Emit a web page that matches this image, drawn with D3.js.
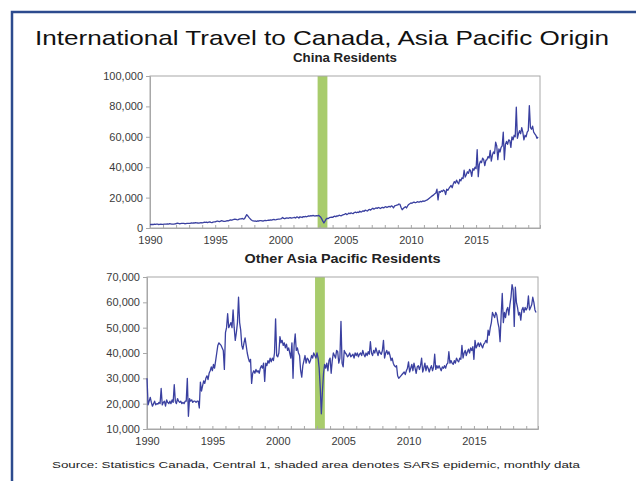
<!DOCTYPE html>
<html>
<head>
<meta charset="utf-8">
<script src="https://cdn.jsdelivr.net/npm/d3@7"></script>
<style>
  html, body { margin: 0; padding: 0; background: #fff; }
  svg { display: block; }
  text { font-family: "Liberation Sans", Arial, sans-serif; }
</style>
</head>
<body>
<svg id="chart" width="636" height="481"></svg>
<script>
// Monthly arrivals, thousands of persons, Jan 1990 onward
const startYear = 1990;

const chinaResidents = [
  2.2,2.3,2.4,2.3,2.5,2.4,2.6,2.5,2.3,2.4,2.5,2.4,
  2.4,2.5,2.6,2.5,2.7,2.6,2.8,2.7,2.6,2.5,2.6,2.7,
  2.8,3.2,3.0,2.8,2.9,3.0,3.1,3.0,2.8,2.9,3.0,3.1,
  3.0,3.1,3.3,3.2,3.4,3.3,3.5,3.4,3.3,3.2,3.4,3.5,
  3.4,3.6,3.8,3.7,3.9,3.6,3.8,4.0,3.7,3.6,3.9,4.0,
  4.0,4.3,4.6,4.4,4.2,4.5,4.8,4.6,4.4,4.3,4.6,4.8,
  4.7,5.0,5.3,5.1,5.4,5.6,5.9,5.7,5.5,5.4,5.8,6.0,
  6.0,6.3,5.8,6.2,7.5,8.8,8.0,7.0,6.2,5.4,4.9,4.7,
  4.5,4.6,4.4,4.7,4.6,4.8,4.9,4.7,4.6,4.8,5.0,4.9,
  5.0,5.2,5.1,5.3,5.2,5.5,5.6,5.4,5.5,5.7,5.8,5.9,
  6.0,6.2,6.9,6.3,6.1,6.5,6.7,6.4,6.6,6.8,6.5,6.7,
  6.8,7.0,6.6,7.3,7.1,6.5,7.4,7.2,6.9,7.5,7.3,7.6,
  7.4,7.7,8.0,7.8,8.1,7.9,8.3,8.0,7.9,8.2,8.0,8.3,
  7.8,7.2,6.0,4.5,3.3,4.5,5.8,6.4,6.2,6.8,7.0,7.2,
  7.0,7.5,7.8,7.4,8.0,7.9,8.4,8.2,8.0,8.5,8.8,9.0,
  9.5,8.8,9.2,9.8,9.4,10.0,9.7,9.5,10.2,10.5,10.0,10.4,
  10.2,11.0,10.5,10.8,11.3,11.0,11.8,11.4,11.2,11.9,12.2,11.8,
  12.5,13.0,12.4,12.8,13.2,12.9,13.5,13.2,12.8,13.4,13.6,13.2,
  13.8,14.0,13.5,13.9,14.2,13.8,14.5,14.2,13.2,14.5,14.8,15.0,
  15.2,15.8,15.5,13.5,12.0,12.8,13.5,14.0,13.2,14.5,15.5,16.0,
  16.5,16.2,16.8,17.0,16.6,16.9,17.3,17.0,17.1,17.5,17.2,17.8,
  17.5,17.8,18.2,18.5,19.0,19.6,20.2,20.8,21.3,21.8,22.5,23.0,
  25.5,18.5,24.0,23.5,24.5,24.0,25.0,24.5,22.0,25.5,24.8,26.0,
  27.0,28.0,26.5,29.0,30.5,29.5,31.5,30.0,29.0,32.0,31.0,33.0,
  32.5,38.0,33.5,35.0,37.0,36.0,38.5,37.5,34.0,39.0,38.0,40.0,
  39.0,51.5,33.8,42.0,44.0,43.0,46.0,45.0,41.0,44.5,45.0,47.0,
  46.0,51.0,44.0,48.0,50.0,49.0,56.5,54.0,45.0,52.0,50.0,53.0,
  54.0,63.0,45.0,55.0,57.0,55.0,58.0,57.5,53.0,60.0,58.0,61.0,
  60.0,79.5,59.0,62.0,64.0,62.0,66.0,63.0,58.0,61.0,60.0,63.0,
  64.0,80.5,66.0,65.0,67.0,63.0,62.0,61.0,59.0,60.0
];

const otherAsiaPacific = [
  30.0,19.5,21.0,22.5,20.5,19.0,20.0,21.0,19.5,20.0,19.8,20.5,
  20.0,26.0,19.5,20.5,21.0,19.0,21.5,20.5,20.0,21.0,20.0,21.5,
  20.5,27.5,21.0,20.0,22.0,21.0,20.5,21.0,20.0,20.5,20.0,21.0,
  21.0,30.0,15.0,22.0,21.0,21.5,20.5,21.0,21.0,20.5,21.0,21.0,
  18.3,28.5,25.0,27.0,29.0,28.0,30.0,31.0,29.5,32.0,33.0,34.5,
  33.0,35.5,34.0,37.0,40.0,43.0,44.0,43.5,43.0,42.0,41.0,33.5,
  48.0,50.0,55.5,50.0,51.0,52.0,50.0,57.0,50.0,45.0,48.0,52.0,
  62.0,52.0,49.0,43.0,41.5,44.0,46.0,43.0,40.0,38.0,36.5,37.5,
  28.0,32.0,33.0,32.0,33.5,32.5,33.0,32.0,34.0,35.0,34.0,36.0,
  28.8,36.0,35.0,37.0,36.0,38.0,36.5,38.0,37.0,40.0,53.5,39.0,
  38.5,40.0,46.5,44.0,45.0,43.0,44.0,42.0,43.5,41.0,42.0,40.0,
  38.0,44.0,30.0,43.0,47.5,41.0,42.0,40.0,39.0,33.0,30.5,35.0,
  37.0,39.0,36.0,38.0,37.5,36.0,37.0,39.0,38.0,40.0,39.0,38.0,
  40.0,38.0,34.0,26.0,16.0,25.0,32.0,35.5,34.0,36.0,33.0,37.0,
  38.0,32.0,37.0,40.0,39.0,38.0,41.0,40.5,36.0,38.0,52.5,36.0,
  34.5,41.0,40.0,39.5,38.5,39.0,40.0,38.5,39.0,39.5,38.0,40.0,
  39.0,40.0,38.5,39.5,40.0,39.0,41.0,39.5,38.5,40.0,39.0,40.5,
  39.5,44.5,40.0,39.0,41.0,40.0,42.0,40.5,39.0,41.0,40.0,39.5,
  41.0,45.0,38.0,40.0,41.0,39.5,40.5,39.0,37.0,38.0,36.0,35.0,
  34.5,35.0,31.0,30.0,30.5,31.0,31.5,32.0,32.5,31.5,33.0,34.0,
  36.5,32.5,34.0,35.5,33.0,36.0,34.0,32.0,34.5,35.0,33.5,35.0,
  38.0,32.5,34.0,36.0,33.0,35.0,34.0,32.5,34.0,35.0,33.0,34.5,
  39.5,33.5,35.0,34.0,35.0,34.0,33.0,34.5,34.0,35.0,34.0,35.5,
  36.0,40.5,36.0,37.0,36.0,35.5,37.0,36.0,38.0,37.0,36.5,38.0,
  37.5,43.0,38.0,40.0,41.0,39.0,40.5,41.5,40.0,42.0,41.0,42.5,
  37.5,45.0,42.0,43.0,44.0,42.5,44.0,43.0,42.0,43.5,44.0,45.0,
  44.0,49.0,47.0,50.0,52.0,56.0,55.0,54.0,56.0,55.0,52.0,50.0,
  44.5,55.0,63.5,52.0,56.0,54.0,57.0,58.0,55.0,59.0,62.0,67.0,
  65.0,50.5,66.0,60.0,58.0,55.0,56.0,53.0,57.0,58.0,56.0,58.0,
  57.0,58.0,62.5,57.0,58.0,59.0,62.0,60.0,57.0,56.0
];

// SARS epidemic window (decimal years)
const sarsPeriod = [2002.85, 2003.6];

const yearLabels = [1990, 1995, 2000, 2005, 2010, 2015];
const chinaTicks = [0, 20000, 40000, 60000, 80000, 100000];
const otherTicks = [10000, 20000, 30000, 40000, 50000, 60000, 70000];

const titleText = "International Travel to Canada, Asia Pacific Origin";
const sourceText = "Source: Statistics Canada, Central 1, shaded area denotes SARS epidemic, monthly data";

const svg = d3.select("#chart");
const lineColor = "#3a40a0";
const shadeColor = "#a8cc6c";
const axisColor = "#a8a8a8";
const labelColor = "#3a3a3a";

// page frame (left and top rules)
svg.append("path")
  .attr("d", "M12,481 L12,12 L636,12")
  .attr("fill", "none")
  .attr("stroke", "#2c4b8e")
  .attr("stroke-width", 2.5);

function fitText(sel, width) {
  sel.attr("textLength", width).attr("lengthAdjust", "spacingAndGlyphs");
}

svg.append("text")
  .attr("x", 322).attr("y", 45)
  .attr("text-anchor", "middle")
  .attr("font-size", 21)
  .attr("fill", "#111")
  .text(titleText)
  .call(fitText, 574);

svg.append("text")
  .attr("x", 316).attr("y", 468)
  .attr("text-anchor", "middle")
  .attr("font-size", 9.5)
  .attr("fill", "#222")
  .text(sourceText)
  .call(fitText, 528);

function panel(cfg) {
  const series = cfg.values.map((v, i) => ({ t: startYear + i / 12, v: v * 1000 }));
  const x = d3.scaleLinear().domain([1990, 2019.9]).range([cfg.left, cfg.right]);
  const y = d3.scaleLinear().domain(cfg.yDomain).range([cfg.bottom, cfg.top]);
  const g = svg.append("g");

  // subtitle
  g.append("text")
    .attr("x", (cfg.left + cfg.right) / 2).attr("y", cfg.top - 14)
    .attr("text-anchor", "middle")
    .attr("font-size", 12).attr("font-weight", "bold")
    .attr("fill", "#222")
    .text(cfg.title)
    .call(fitText, cfg.titleWidth);

  // shaded SARS period
  g.append("rect")
    .attr("x", x(sarsPeriod[0]))
    .attr("y", cfg.top)
    .attr("width", x(sarsPeriod[1]) - x(sarsPeriod[0]))
    .attr("height", cfg.bottom - cfg.top)
    .attr("fill", shadeColor);

  // plot frame
  g.append("rect")
    .attr("x", cfg.left).attr("y", cfg.top)
    .attr("width", cfg.right - cfg.left)
    .attr("height", cfg.bottom - cfg.top)
    .attr("fill", "none")
    .attr("stroke", axisColor).attr("stroke-width", 1);

  const years = d3.range(1990, 2020);
  const xAxis = d3.axisBottom(x)
    .tickValues(years)
    .tickSize(-3)
    .tickPadding(8)
    .tickFormat(d => yearLabels.includes(d) ? String(d) : "");
  const xg = g.append("g").attr("transform", `translate(0,${cfg.bottom})`).call(xAxis);

  const yAxis = d3.axisLeft(y)
    .tickValues(cfg.ticks)
    .tickSize(4)
    .tickPadding(3)
    .tickFormat(d3.format(","));
  const yg = g.append("g").attr("transform", `translate(${cfg.left},0)`).call(yAxis);

  [xg, yg].forEach(a => {
    a.select(".domain").attr("stroke", axisColor);
    a.selectAll(".tick line").attr("stroke", axisColor);
    a.selectAll(".tick text")
      .attr("font-family", "'Liberation Sans', Arial, sans-serif")
      .attr("font-size", 11)
      .attr("fill", labelColor);
  });

  const line = d3.line().x(d => x(d.t)).y(d => y(d.v));
  g.append("path")
    .datum(series)
    .attr("d", line)
    .attr("fill", "none")
    .attr("stroke", lineColor)
    .attr("stroke-width", 1.3)
    .attr("stroke-linejoin", "round");
}

panel({
  title: "China Residents",
  titleWidth: 104,
  values: chinaResidents,
  yDomain: [0, 100000],
  ticks: chinaTicks,
  left: 150, right: 540, top: 76, bottom: 228
});

panel({
  title: "Other Asia Pacific Residents",
  titleWidth: 196,
  values: otherAsiaPacific,
  yDomain: [10000, 70000],
  ticks: otherTicks,
  left: 147, right: 538, top: 277, bottom: 429
});
</script>
</body>
</html>
